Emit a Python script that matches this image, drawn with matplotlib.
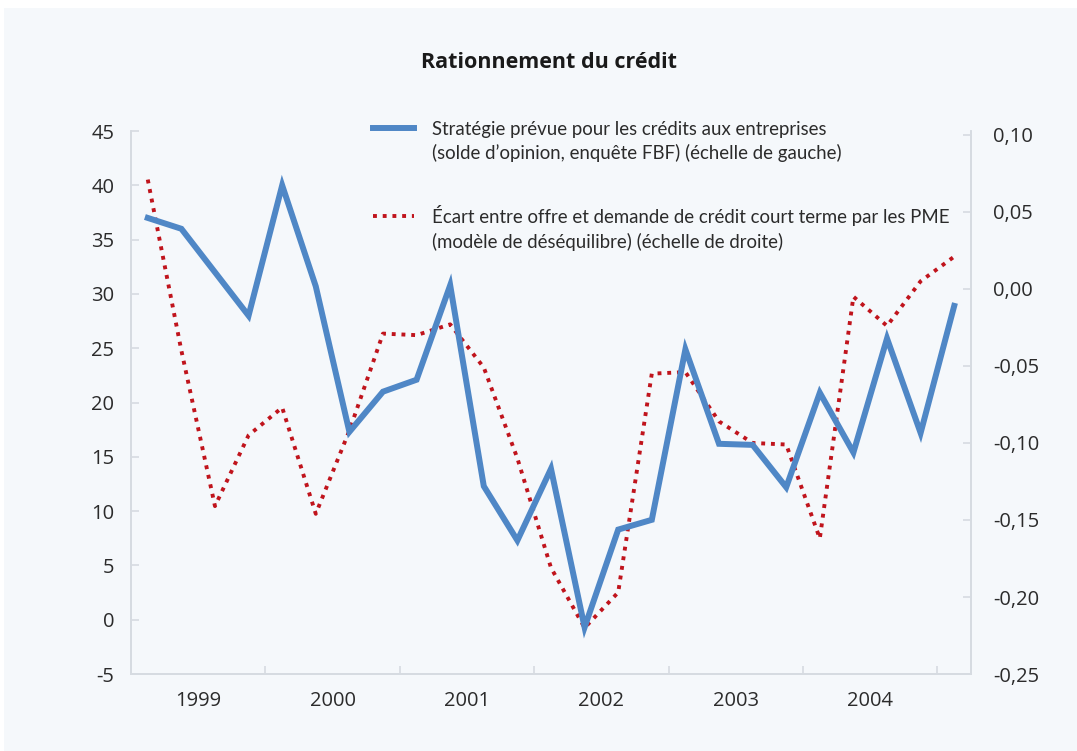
import matplotlib
matplotlib.use("Agg")
import matplotlib.pyplot as plt
from matplotlib.patches import Rectangle
from matplotlib.lines import Line2D

# ---- data ----
quarters = list(range(25))  # 1999Q1 .. 2005Q1
years = ["1999", "2000", "2001", "2002", "2003", "2004"]
strategie = [37.0, 36.0, 32.0, 28.0, 40.0, 30.7, 17.3, 21.0, 22.1, 30.8,
             12.3, 7.3, 13.9, -0.7, 8.3, 9.2, 24.9, 16.2, 16.1, 12.2,
             20.9, 15.4, 25.9, 17.2, 28.9]
ecart = [0.071, -0.040, -0.141, -0.095, -0.077, -0.146, -0.092, -0.029, -0.030, -0.023,
         -0.051, -0.110, -0.181, -0.220, -0.197, -0.055, -0.054, -0.086, -0.100, -0.101,
         -0.162, -0.005, -0.024, 0.005, 0.021]
left_ticks = [-5, 0, 5, 10, 15, 20, 25, 30, 35, 40, 45]
right_ticks = [-0.25, -0.20, -0.15, -0.10, -0.05, 0.00, 0.05, 0.10]

label_blue = ["Stratégie prévue pour les crédits aux entreprises",
              "(solde d\u2019opinion, enquête FBF) (échelle de gauche)"]
label_red = ["Écart entre offre et demande de crédit court terme par les PME",
             "(modèle de déséquilibre) (échelle de droite)"]

BG = "#f5f8fb"
SPINE = "#d6dbe1"
BLUE = "#4f87c6"
RED = "#c0141c"
TXT = "#2b2b2b"

plt.rcParams['font.family'] = ['Open Sans', 'DejaVu Sans']

fig = plt.figure(figsize=(10.77, 7.51), dpi=100)
fig.patch.set_facecolor("white")
fig.patches.append(Rectangle((0.004, 0.0), 0.996, 0.989, transform=fig.transFigure,
                             facecolor=BG, edgecolor="none", zorder=-10))

ax = fig.add_axes([0.1216, 0.1025, 0.78, 0.723])
ax2 = ax.twinx()

l1, = ax.plot(quarters, strategie, color=BLUE, lw=4.3, solid_joinstyle="miter", zorder=3)
l2, = ax2.plot(quarters, ecart, color=RED, lw=2.8, linestyle=(0, (1, 1.5)),
               dash_capstyle="butt", zorder=2)

ax.set_xlim(-0.5, 24.5)
ax.set_ylim(-5, 45)
ax2.set_ylim(-0.248, 0.1025)

ax.set_yticks(left_ticks)
ax.set_yticklabels([str(t) for t in left_ticks])
ax2.set_yticks(right_ticks)
ax2.set_yticklabels([f"{t:.2f}".replace(".", ",") for t in right_ticks])

ax.set_xticks([3.5 + 4 * i for i in range(6)])
ax.set_xticklabels([])
ax.set_xticks([1.5 + 4 * i for i in range(6)], minor=True)
ax.set_xticklabels(years, minor=True)

for a in (ax, ax2):
    for s in a.spines.values():
        s.set_color(SPINE)
        s.set_linewidth(1.2)
    a.spines["top"].set_visible(False)
ax.tick_params(axis="y", direction="in", length=6, color=SPINE, width=1.2,
               labelsize=14.5, labelcolor=TXT, pad=12)
ax2.tick_params(axis="y", direction="in", length=6, color=SPINE, width=1.2,
                labelsize=14.5, labelcolor=TXT, pad=16)
ax.tick_params(axis="x", which="major", direction="in", length=6, color=SPINE, width=1.2)
ax.tick_params(axis="x", which="minor", length=0, labelsize=14.5, labelcolor=TXT, pad=12)

fig.text(0.51, 0.917, "Rationnement du crédit", ha="center", va="center",
         fontsize=15.5, fontweight="bold", color="#1a1a1a")

blank = Line2D([], [], alpha=0)
leg_kw = dict(loc="upper left", frameon=False, handlelength=2.2, handletextpad=0.95,
              labelspacing=0.36, labelcolor=TXT, borderaxespad=0, borderpad=0,
              prop={"family": ["Lato", "DejaVu Sans"], "size": 13.4})
leg1 = ax.legend(handles=[l1, blank], labels=label_blue,
                 bbox_to_anchor=(0.288, 1.019), **leg_kw)
ax.add_artist(leg1)
leg2 = ax.legend(handles=[l2, blank], labels=label_red,
                 bbox_to_anchor=(0.288, 0.864), **leg_kw)

ax.set_zorder(ax2.get_zorder() + 1)
ax.patch.set_visible(False)
ax2.patch.set_visible(True)
ax2.patch.set_facecolor(BG)

fig.savefig("out.png", dpi=100, facecolor="white")
